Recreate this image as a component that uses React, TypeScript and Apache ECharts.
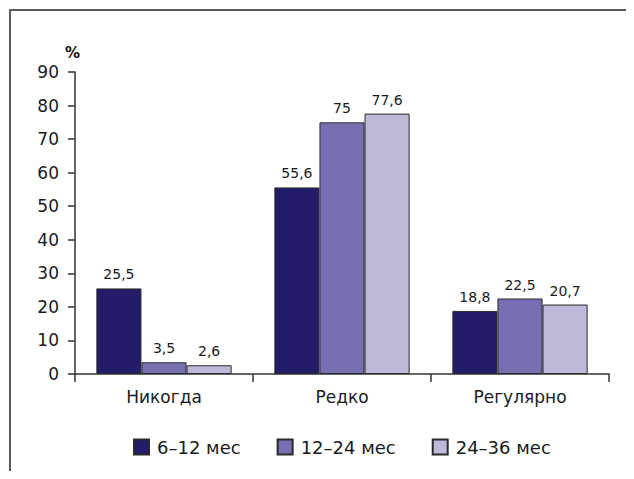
import React, { useEffect, useRef } from "react";
import * as echarts from "echarts";

const categories = ["Никогда", "Редко", "Регулярно"];
const seriesNames = ["6–12 мес", "12–24 мес", "24–36 мес"];
const age6to12 = [25.5, 55.6, 18.8];
const age12to24 = [3.5, 75, 22.5];
const age24to36 = [2.6, 77.6, 20.7];
const seriesColors = ["#221c6b", "#7670b2", "#bdb9d9"];
const yMin = 0;
const yMax = 90;
const yStep = 10;

const fmt = (v: number) => String(v).replace(".", ",");

export default function App() {
  const ref = useRef<HTMLDivElement>(null);

  useEffect(() => {
    if (!ref.current) return;
    const chart = echarts.init(ref.current, undefined, { renderer: "svg" });
    const values = [age6to12, age12to24, age24to36];
    const font = "'DejaVu Sans', 'Liberation Sans', sans-serif";

    chart.setOption({
      animation: false,
      backgroundColor: "#ffffff",
      textStyle: { fontFamily: font },
      graphic: [
        {
          type: "polyline",
          shape: { points: [[10, 479], [10, 10], [634, 10]] },
          style: { stroke: "#5a5a5a", lineWidth: 2, fill: "none" },
          silent: true,
        },
        {
          type: "text",
          left: 65,
          top: 45,
          style: { text: "%", font: `bold 15px ${font}`, fill: "#111" },
        },
      ],
      legend: {
        data: seriesNames,
        left: 128,
        top: 433,
        itemWidth: 15,
        itemHeight: 15,
        itemGap: 36,
        icon: "rect",
        textStyle: { fontSize: 18, color: "#1a1a1a", fontFamily: font, padding: [0, 0, 0, 3] },
      },
      grid: { left: 75, right: 25, top: 72, bottom: 105, containLabel: false },
      xAxis: {
        type: "category",
        data: categories,
        axisLine: { lineStyle: { color: "#333", width: 1.5 } },
        axisTick: { show: true, length: 8, inside: false, lineStyle: { color: "#333", width: 1.5 } },
        axisLabel: { fontSize: 17, color: "#1a1a1a", margin: 14, fontFamily: font },
      },
      yAxis: {
        type: "value",
        min: yMin,
        max: yMax,
        interval: yStep,
        axisLine: { show: true, lineStyle: { color: "#333", width: 1.5 } },
        axisTick: { show: true, length: 7, lineStyle: { color: "#333", width: 1.5 } },
        axisLabel: { fontSize: 17, color: "#1a1a1a", margin: 16, fontFamily: font },
        splitLine: { show: false },
      },
      series: seriesNames.map((name, i) => ({
        name,
        type: "bar",
        data: values[i],
        barGap: "0%",
        barCategoryGap: "24%",
        itemStyle: { color: seriesColors[i], borderColor: "#2a2a2a", borderWidth: 1 },
        label: {
          show: true,
          position: "top",
          distance: 7,
          fontSize: 14,
          color: "#1a1a1a",
          fontFamily: font,
          formatter: (p: any) => fmt(p.value),
        },
      })),
    });

    return () => chart.dispose();
  }, []);

  return <div ref={ref} style={{ width: 634, height: 479, margin: -8 }} />;
}
